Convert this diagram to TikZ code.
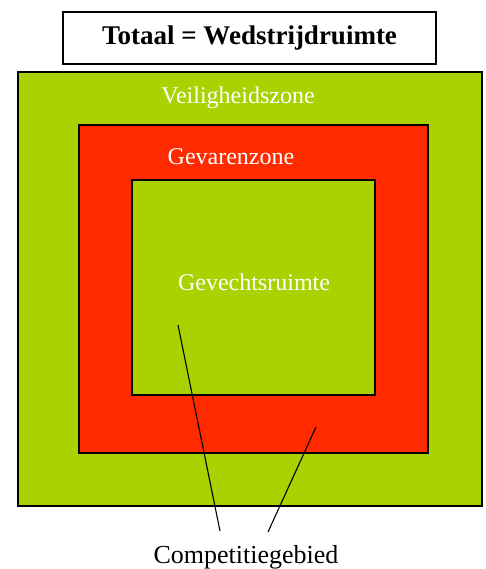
\documentclass[tikz,border=0pt]{standalone}
\usepackage{fontspec}
\setmainfont{Liberation Serif}
\definecolor{zgreen}{RGB}{169,210,0}
\definecolor{zred}{RGB}{255,42,0}
\begin{document}
\begin{tikzpicture}[x=1pt,y=-1pt,
  zone/.style={draw=black,line width=1.6pt},
  zlabel/.style={text=white,font=\fontsize{24}{28}\selectfont,inner sep=0pt},
  leader/.style={draw=black,line width=1.1pt}]
\useasboundingbox (0,0) rectangle (486,569);
\node[draw=black,line width=1.6pt,minimum width=373pt,minimum height=52pt,inner sep=0pt,font=\fontsize{27}{31}\selectfont\bfseries] (title) at (249.5,38) {Totaal = Wedstrijdruimte};
\path[zone,fill=zgreen] (18,72) rectangle (482,506);
\path[zone,fill=zred] (79,125) rectangle (428,453);
\path[zone,fill=zgreen] (132,180) rectangle (375,395);
\node[zlabel] (vz) at (238,98) {Veiligheidszone};
\node[zlabel] (gz) at (231,157) {Gevarenzone};
\node[zlabel] (gr) at (254,282) {Gevechtsruimte};
\node[inner sep=0pt,font=\fontsize{26}{30}\selectfont] (cg) at (246,557) {Competitiegebied};
\coordinate (a1) at (178,325);
\coordinate (a2) at (220,531);
\coordinate (b1) at (316,427);
\coordinate (b2) at (268,532);
\draw[leader] (a1) -- (a2);
\draw[leader] (b1) -- (b2);
\end{tikzpicture}
\end{document}
